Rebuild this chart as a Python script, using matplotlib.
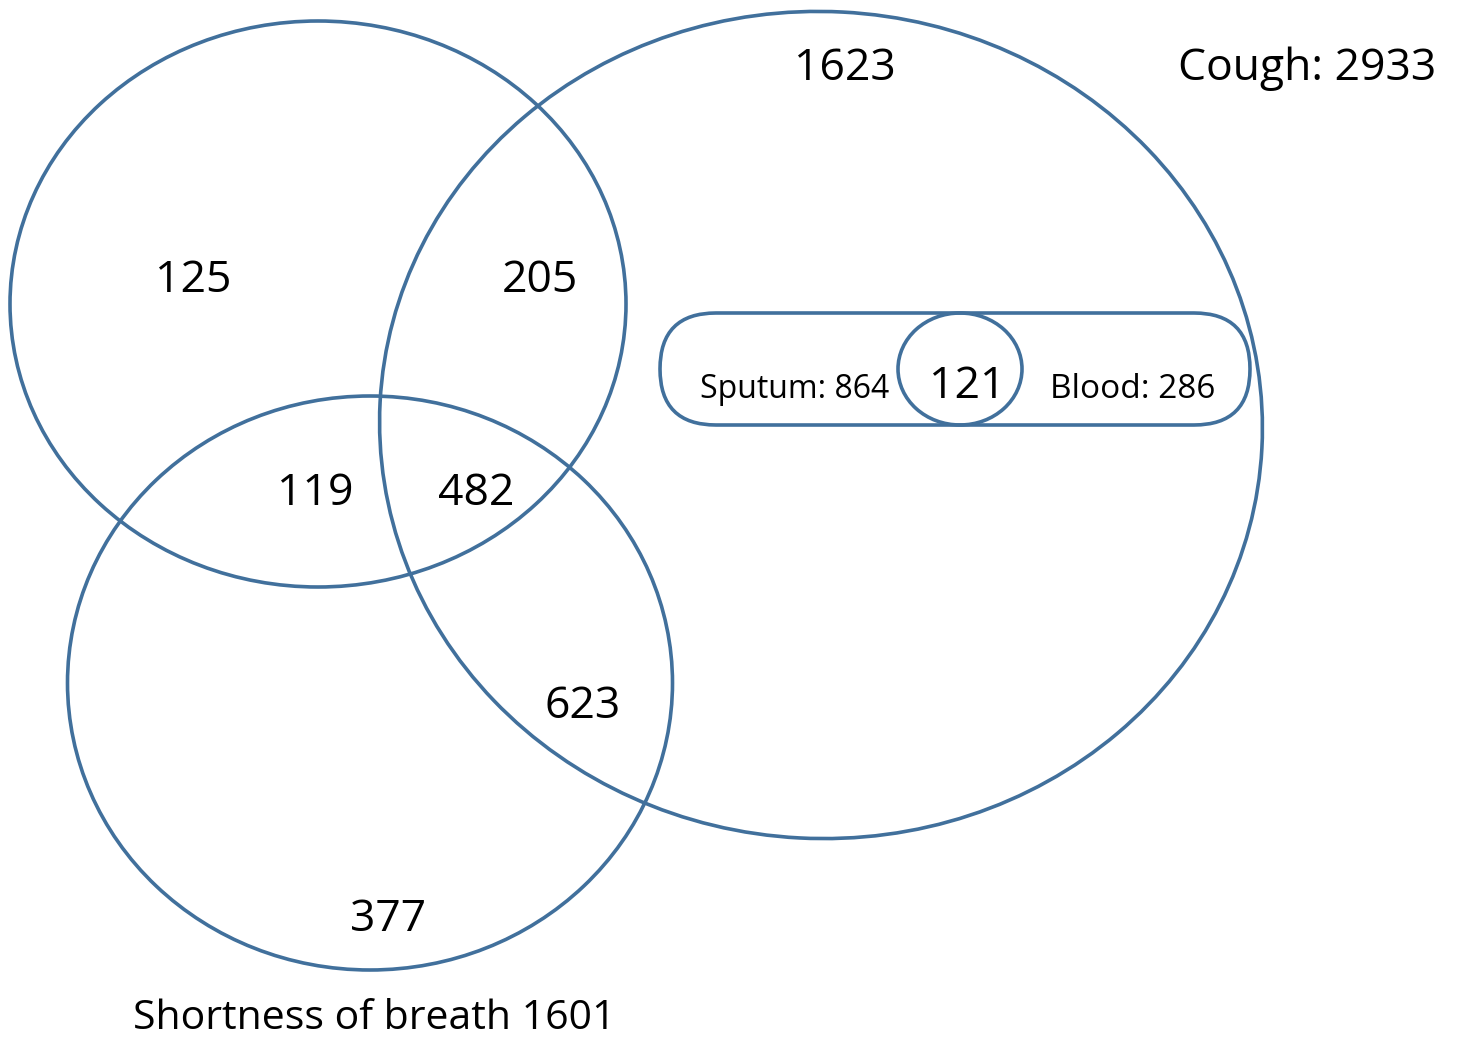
import matplotlib.pyplot as plt
from matplotlib.patches import Ellipse, FancyBboxPatch

# region counts
region_counts = [125, 205, 119, 482, 623, 377, 1623]
region_xy = [(193, 281), (540, 281), (315, 494), (476, 494), (583, 707), (388, 920), (845, 69)]

set_names = ["Cough", "Shortness of breath", "Sputum", "Blood"]
set_totals = [2933, 1601, 864, 286]
both_sputum_blood = 121

edge = "#41709c"
lw = 2.6

fig = plt.figure(figsize=(14.58, 10.38), dpi=100)
ax = fig.add_axes([0, 0, 1, 1])
ax.set_xlim(0, 1458)
ax.set_ylim(1038, 0)
ax.axis("off")

# top-left set (unlabelled), cough, shortness of breath
ax.add_patch(Ellipse((318, 304), 616, 566, fill=False, ec=edge, lw=lw))
ax.add_patch(Ellipse((821, 425), 883, 827, angle=3, fill=False, ec=edge, lw=lw))
ax.add_patch(Ellipse((370, 683), 605, 574, fill=False, ec=edge, lw=lw))

# sputum / blood capsule and their overlap
ax.add_patch(FancyBboxPatch((660, 313), 590, 112, boxstyle="round,pad=0,rounding_size=56",
                            fill=False, ec=edge, lw=lw))
ax.add_patch(Ellipse((960, 369), 124, 112, fill=False, ec=edge, lw=lw))

font = "Open Sans"
for n, (x, y) in zip(region_counts, region_xy):
    ax.text(x, y, str(n), fontsize=32, family=font, ha="center", va="center")

ax.text(1307, 69, f"{set_names[0]}: {set_totals[0]}", fontsize=32, family=font, ha="center", va="center")
ax.text(374, 1019, f"{set_names[1]} {set_totals[1]}", fontsize=29.5, family=font, ha="center", va="center")
ax.text(795, 390, f"{set_names[2]}: {set_totals[2]}", fontsize=23, family=font, ha="center", va="center")
ax.text(1133, 390, f"{set_names[3]}: {set_totals[3]}", fontsize=24, family=font, ha="center", va="center")
ax.text(967, 387, str(both_sputum_blood), fontsize=32, family=font, ha="center", va="center")

fig.savefig("out.png", dpi=100, facecolor="white")
